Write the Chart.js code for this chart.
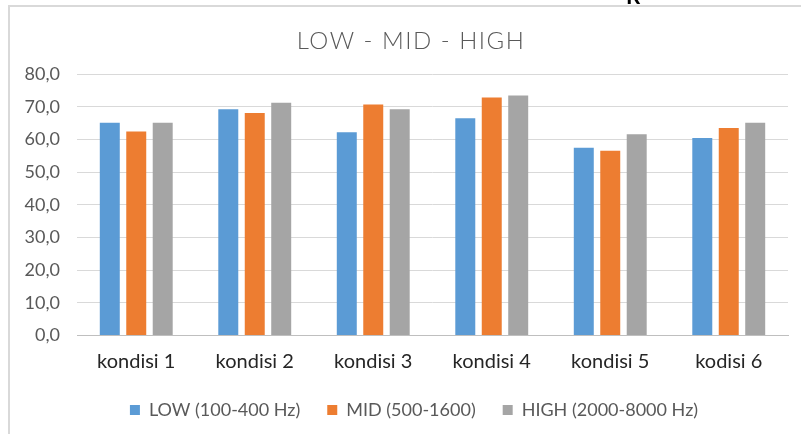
<!DOCTYPE html>
<html>
<head>
<meta charset="utf-8">
<script src="https://cdn.jsdelivr.net/npm/chart.js@4.4.1/dist/chart.umd.min.js"></script>
<style>
  html, body { margin: 0; padding: 0; background: #ffffff; }
  #wrap { width: 801px; height: 434px; position: relative; }
</style>
</head>
<body>
<div id="wrap"><canvas id="chart" width="801" height="434"></canvas></div>
<script>
// Conditions on the x axis
const categories = ['kondisi 1', 'kondisi 2', 'kondisi 3', 'kondisi 4', 'kondisi 5', 'kodisi 6'];

// Series values per frequency band
const lowValues  = [65.1, 69.2, 62.2, 66.5, 57.4, 60.4];
const midValues  = [62.4, 68.1, 70.7, 72.8, 56.5, 63.5];
const highValues = [65.1, 71.2, 69.2, 73.4, 61.6, 65.1];

const seriesNames = ['LOW (100-400 Hz)', 'MID (500-1600)', 'HIGH (2000-8000 Hz)'];
const chartTitle = 'LOW - MID - HIGH';
const cornerMark = 'R';

// Value axis range
const yMin = 0;
const yMax = 80;
const yStep = 10;

const FONT = 'Lato, "Open Sans", "Liberation Sans", sans-serif';

// Frame, heading and stray mark at the top edge; legend nudged to the frame's centre
const decorations = {
  id: 'decorations',
  afterLayout(chart) {
    const lg = chart.legend;
    if (lg) { lg.left += 14; lg.right += 14; }
  },
  beforeDraw(chart) {
    const ctx = chart.ctx;
    ctx.save();
    ctx.fillStyle = '#ffffff';
    ctx.fillRect(0, 0, chart.width, chart.height);
    ctx.strokeStyle = '#d9d9d9';
    ctx.lineWidth = 2;
    ctx.beginPath();
    ctx.moveTo(9, chart.height + 5);
    ctx.lineTo(9, 6);
    ctx.lineTo(chart.width + 5, 6);
    ctx.stroke();
    ctx.restore();
  },
  afterDraw(chart) {
    const ctx = chart.ctx;
    ctx.save();
    ctx.fillStyle = '#595959';
    ctx.font = '300 24px ' + FONT;
    if ('letterSpacing' in ctx) ctx.letterSpacing = '1.5px';
    ctx.textAlign = 'center';
    ctx.textBaseline = 'alphabetic';
    ctx.fillText(chartTitle, 411, 49);
    if ('letterSpacing' in ctx) ctx.letterSpacing = '0px';
    ctx.fillStyle = '#000000';
    ctx.font = 'bold 22px ' + FONT;
    ctx.textAlign = 'left';
    ctx.fillText(cornerMark, 626, 4);
    ctx.restore();
  }
};

new Chart(document.getElementById('chart'), {
  type: 'bar',
  data: {
    labels: categories,
    datasets: [
      { label: seriesNames[0], data: lowValues,  backgroundColor: '#5b9bd5' },
      { label: seriesNames[1], data: midValues,  backgroundColor: '#ed7d31' },
      { label: seriesNames[2], data: highValues, backgroundColor: '#a5a5a5' }
    ]
  },
  options: {
    responsive: false,
    animation: false,
    devicePixelRatio: 1,
    datasets: {
      bar: { categoryPercentage: 0.67, barPercentage: 0.755 }
    },
    layout: { padding: { left: 12, right: 13, top: 74, bottom: 5 } },
    plugins: {
      title: { display: false },
      tooltip: { enabled: false },
      legend: {
        position: 'bottom',
        labels: {
          boxWidth: 10,
          boxHeight: 10,
          padding: 27,
          color: '#595959',
          font: { family: FONT, size: 18 }
        }
      }
    },
    scales: {
      x: {
        grid: { display: false, drawTicks: false },
        border: { display: true, color: '#bfbfbf', width: 1 },
        afterFit(scale) { scale.height -= 13.5; },
        ticks: {
          padding: 14,
          color: '#262626',
          font: { family: FONT, size: 20 },
          maxRotation: 0
        }
      },
      y: {
        min: yMin,
        max: yMax,
        afterFit(scale) { scale.width = 65; },
        grid: { color: '#d9d9d9', lineWidth: 1, drawTicks: false },
        border: { display: false },
        ticks: {
          stepSize: yStep,
          padding: 17,
          color: '#595959',
          font: { family: FONT, size: 18 },
          callback: (v) => Number(v).toFixed(1).replace('.', ',')
        }
      }
    }
  },
  plugins: [decorations]
});
</script>
</body>
</html>
